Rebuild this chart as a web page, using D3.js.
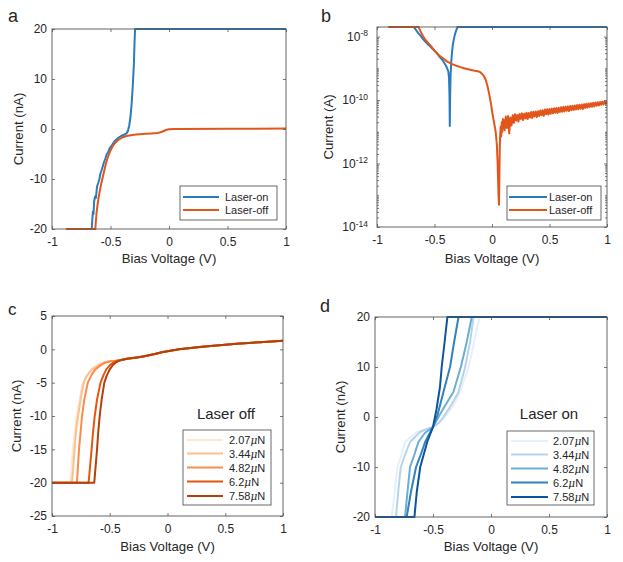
<!DOCTYPE html>
<html><head><meta charset="utf-8">
<script src="https://cdn.jsdelivr.net/npm/d3@7"></script>
<style>
body{margin:0;background:#fff}
svg{display:block}
text{font-family:"Liberation Sans",Arial,Helvetica,sans-serif;fill:#262626}
</style>
</head><body>
<svg id="chart" width="623" height="562"></svg>
<script>
// ---------------- DATA ----------------
const xTicks = [-1, -0.5, 0, 0.5, 1];
const aYTicks = [-20, -10, 0, 10, 20];
const cYTicks = [-25, -20, -15, -10, -5, 0, 5];
const dYTicks = [-20, -10, 0, 10, 20];
const bYTicks = [1e-14, 1e-12, 1e-10, 1e-8];

const legendAB = ["Laser-on", "Laser-off"];
const forces = ["2.07", "3.44", "4.82", "6.2", "7.58"];

// panel a (nA)
const aOnV = [-0.88, -0.66, -0.655, -0.65, -0.645, -0.64, -0.632, -0.625, -0.615, -0.605, -0.595, -0.585, -0.575, -0.565, -0.555, -0.545, -0.535, -0.52, -0.505, -0.49, -0.47, -0.45, -0.43, -0.41, -0.39, -0.37, -0.36, -0.35, -0.34, -0.33, -0.32, -0.31, -0.30, -0.295, -0.29, 1.0];
const aOnI = [-20, -20, -18, -16.5, -17, -14.5, -13.5, -13.8, -11.5, -10.8, -10, -8.8, -8.2, -7.4, -6.6, -6, -5.2, -4.6, -3.8, -3.3, -2.6, -2.1, -1.7, -1.4, -1.2, -1.0, -0.8, -0.3, 0.7, 2.3, 4.8, 8.5, 13, 17, 20, 20];
const aOffV = [-0.88, -0.63, -0.62, -0.61, -0.60, -0.59, -0.58, -0.57, -0.56, -0.55, -0.54, -0.53, -0.52, -0.50, -0.48, -0.46, -0.44, -0.42, -0.40, -0.37, -0.34, -0.30, -0.25, -0.2, -0.15, -0.1, -0.08, -0.06, -0.04, -0.02, 0, 0.05, 0.5, 1.0];
const aOffI = [-20, -20, -17, -15, -13.5, -12.2, -11, -10, -9.0, -8.0, -7.0, -6.2, -5.5, -4.3, -3.4, -2.8, -2.3, -2.0, -1.7, -1.45, -1.3, -1.15, -1.05, -0.95, -0.88, -0.8, -0.72, -0.55, -0.35, -0.15, -0.05, 0, 0.05, 0.1];

// panel b (log10 of |current| in A)
const bOnV = [-0.9, -0.68, -0.66, -0.64, -0.62, -0.60, -0.58, -0.56, -0.54, -0.52, -0.50, -0.48, -0.46, -0.44, -0.42, -0.40, -0.39, -0.38, -0.374, -0.370, -0.367, -0.364, -0.360, -0.355, -0.35, -0.345, -0.34, -0.33, -0.32, -0.31, -0.30, 1.0];
const bOnLog = [-7.7, -7.7, -7.8, -7.9, -7.98, -8.08, -8.16, -8.24, -8.3, -8.38, -8.45, -8.52, -8.62, -8.7, -8.8, -8.92, -9.0, -9.1, -9.3, -9.8, -10.82, -9.9, -9.2, -8.85, -8.6, -8.4, -8.25, -8.05, -7.9, -7.8, -7.7, -7.7];
const bOffV = [-0.9, -0.638, -0.62, -0.60, -0.58, -0.555, -0.53, -0.505, -0.478, -0.45, -0.42, -0.39, -0.35, -0.304, -0.26, -0.217, -0.16, -0.116, -0.10, -0.085, -0.07, -0.055, -0.04, -0.025, -0.01, 0.005, 0.02, 0.032, 0.042, 0.048, 0.052, 0.056, 0.059, 0.061, 0.063, 0.065, 0.067, 0.07, 0.075, 0.08, 0.085, 0.09, 0.095,
  0.10, 0.11, 0.12, 0.13, 0.14, 0.15, 0.16, 0.17, 0.18, 0.19, 0.20, 0.21, 0.22, 0.23, 0.24, 0.25, 0.26, 0.27, 0.28, 0.29, 0.30, 0.31, 0.32, 0.33, 0.34, 0.35, 0.36, 0.37, 0.38, 0.39, 0.40, 0.41, 0.42, 0.43, 0.44, 0.45, 0.46, 0.47, 0.48, 0.49, 0.50, 0.51, 0.52, 0.53, 0.54, 0.55, 0.56, 0.57, 0.58, 0.59, 0.60, 0.61, 0.62, 0.63, 0.64, 0.65, 0.66, 0.67, 0.68, 0.69, 0.70, 0.71, 0.72, 0.73, 0.74, 0.75, 0.76, 0.77, 0.78, 0.79, 0.80, 0.81, 0.82, 0.83, 0.84, 0.85, 0.86, 0.87, 0.88, 0.89, 0.90, 0.91, 0.92, 0.93, 0.94, 0.95, 0.96, 0.97, 0.98, 0.99, 1.00];
const bOffLog = [-7.7, -7.7, -7.85, -7.98, -8.1, -8.2, -8.3, -8.42, -8.53, -8.62, -8.7, -8.79, -8.86, -8.93, -8.98, -9.02, -9.07, -9.1, -9.13, -9.18, -9.25, -9.36, -9.55, -9.8, -10.1, -10.45, -10.75, -11.0, -11.4, -11.9, -12.4, -12.9, -13.2, -13.3, -12.8, -12.2, -11.6, -11.2, -10.85, -11.15, -10.7, -11.0, -10.6,
  -10.62, -10.95, -10.52, -10.88, -10.5, -11.05, -10.55, -10.8, -10.48, -10.72, -10.45, -10.65, -10.47, -10.68, -10.44, -10.6, -10.42, -10.63, -10.43, -10.58, -10.4, -10.6, -10.41, -10.55, -10.38, -10.57, -10.37, -10.52, -10.36, -10.54, -10.35, -10.5, -10.33, -10.48, -10.32, -10.5, -10.3, -10.45, -10.29, -10.46, -10.28, -10.43, -10.27, -10.42, -10.26, -10.4, -10.25, -10.41, -10.24, -10.38, -10.23, -10.37, -10.22, -10.36, -10.21, -10.34, -10.2, -10.35, -10.19, -10.32, -10.18, -10.31, -10.17, -10.3, -10.16, -10.29, -10.15, -10.27, -10.14, -10.28, -10.13, -10.25, -10.12, -10.24, -10.11, -10.22, -10.1, -10.21, -10.09, -10.2, -10.08, -10.18, -10.07, -10.17, -10.06, -10.15, -10.05, -10.14, -10.04, -10.12, -10.05];

// panel c (laser off, nA)
const cTailV = [-0.40, -0.35, -0.30, -0.25, -0.20, -0.15, -0.10, -0.05, 0, 0.1, 0.2, 0.3, 0.4, 0.5, 0.6, 0.7, 0.8, 0.9, 1.0];
const cTailI = [-1.6, -1.4, -1.3, -1.2, -1.05, -0.85, -0.65, -0.45, -0.28, 0.0, 0.2, 0.38, 0.55, 0.7, 0.83, 0.95, 1.07, 1.18, 1.3];
const c207V = [-1, -0.84, -0.83, -0.82, -0.80, -0.78, -0.76, -0.74, -0.71, -0.67, -0.62, -0.57, -0.52, -0.47];
const c207I = [-20, -20, -17.5, -15, -12, -9.5, -7.5, -5.5, -4.3, -3.2, -2.5, -2.0, -1.8, -1.7];
const c344V = [-1, -0.827, -0.815, -0.805, -0.79, -0.77, -0.75, -0.726, -0.70, -0.654, -0.60, -0.553, -0.50, -0.45];
const c344I = [-20, -20, -17.5, -15, -12, -9.5, -7.3, -5, -4.0, -3, -2.4, -2, -1.8, -1.7];
const c482V = [-1, -0.784, -0.775, -0.766, -0.753, -0.74, -0.72, -0.69, -0.66, -0.625, -0.58, -0.54, -0.49, -0.45];
const c482I = [-20, -20, -17.5, -15, -12.5, -10, -7.5, -5, -3.9, -3, -2.4, -2, -1.75, -1.7];
const c620V = [-1, -0.683, -0.67, -0.657, -0.645, -0.63, -0.61, -0.58, -0.555, -0.53, -0.5, -0.47, -0.44];
const c620I = [-20, -20, -17.5, -15, -12.5, -10, -7.5, -5, -3.9, -3, -2.4, -2.0, -1.75];
const c758V = [-1, -0.634, -0.622, -0.61, -0.6, -0.587, -0.57, -0.547, -0.525, -0.5, -0.475, -0.45, -0.43];
const c758I = [-20, -20, -17.5, -15, -12.5, -10, -7.5, -5, -3.9, -3, -2.4, -2.0, -1.8];

// panel d (laser on, nA)
const d207V = [-1, -0.856, -0.83, -0.807, -0.77, -0.741, -0.64, -0.57, -0.5, -0.45, -0.396, -0.32, -0.266, -0.194, -0.145, -0.1, 1];
const d207I = [-20, -20, -15, -10, -7.5, -5, -3, -2.5, -2, -1.2, 0, 2.5, 5, 10, 15, 20, 20];
const d344V = [-1, -0.819, -0.80, -0.778, -0.74, -0.698, -0.612, -0.55, -0.5, -0.45, -0.41, -0.34, -0.28, -0.223, -0.18, -0.151, 1];
const d344I = [-20, -20, -15, -10, -7.5, -5, -3, -2.4, -2, -1.2, 0, 2.5, 5, 10, 15, 20, 20];
const d482V = [-1, -0.741, -0.72, -0.698, -0.66, -0.626, -0.57, -0.5, -0.453, -0.39, -0.324, -0.26, -0.209, -0.166, 1];
const d482I = [-20, -20, -15, -10, -7.5, -5, -3.2, -2, 0, 2.5, 5, 10, 15, 20, 20];
const d620V = [-1, -0.727, -0.69, -0.646, -0.605, -0.568, -0.53, -0.5, -0.46, -0.41, -0.353, -0.318, -0.28, 1];
const d620I = [-20, -20, -15, -10, -7.5, -5, -3.3, -2, 0.5, 5, 10, 15, 20, 20];
const d758V = [-1, -0.66, -0.64, -0.61, -0.58, -0.55, -0.5, -0.47, -0.44, -0.425, -0.40, -0.376, 1];
const d758I = [-20, -20, -15, -10, -7.5, -5, -2, 1.5, 6, 10, 15, 20, 20];

// colours
const cOn = "#2a7bbf", cOff = "#e2561b";
const orangeShades = ["#fde6d2", "#fdc08e", "#fb8c4a", "#e6550d", "#b3400a"];
const blueShades = ["#e6effa", "#b5d3ea", "#6aaed6", "#3182bd", "#0b559f"];

// ---------------- DRAW ----------------
const svg = d3.select("#chart");
const fmt = d => String(d);

function panel(o) {
  const x = d3.scaleLinear().domain([-1, 1]).range([o.x0, o.x1]);
  const y = (o.log ? d3.scaleLog() : d3.scaleLinear()).domain(o.yDom).range([o.y1, o.y0]);
  const id = "clip" + o.name;
  svg.append("clipPath").attr("id", id).append("rect")
    .attr("x", o.x0).attr("y", o.y0 - 1.5).attr("width", o.x1 - o.x0).attr("height", o.y1 - o.y0 + 3);
  const lg = svg.append("g").attr("clip-path", `url(#${id})`);
  const line = d3.line().x(d => x(d[0])).y(d => y(d[1]));
  o.series.forEach(s => {
    lg.append("path").datum(d3.zip(s.v, s.i)).attr("d", line)
      .attr("fill", "none").attr("stroke", s.color).attr("stroke-width", 2)
      .attr("stroke-linejoin", "round");
  });
  const tk = 3;
  const style = g => {
    g.select(".domain").remove();
    g.selectAll(".tick line").attr("stroke", "#555").attr("stroke-width", 0.8);
    g.selectAll("text").attr("font-size", 12).attr("font-family", null).attr("fill", "#262626");
    g.attr("font-family", null);
  };
  svg.append("g").attr("transform", `translate(0,${o.y1})`)
    .call(d3.axisBottom(x).tickValues(xTicks).tickFormat(fmt).tickSizeInner(-tk).tickSizeOuter(0).tickPadding(8)).call(style);
  svg.append("g").attr("transform", `translate(0,${o.y0})`)
    .call(d3.axisTop(x).tickValues(xTicks).tickFormat("").tickSizeInner(-tk).tickSizeOuter(0)).call(style);
  if (o.log) {
    const minor = [];
    for (let e = -14; e <= -8; e++) for (let k = 1; k <= 9; k++) {
      const v = k * Math.pow(10, e);
      if (v <= o.yDom[1] * 1.0001 && !(k === 1 && e % 2 === 0)) minor.push(v);
    }
    [[d3.axisLeft, o.x0], [d3.axisRight, o.x1]].forEach(([ax, px]) => {
      svg.append("g").attr("transform", `translate(${px},0)`)
        .call(ax(y).tickValues(minor).tickFormat("").tickSizeInner(-2).tickSizeOuter(0)).call(style);
    });
    const gl = svg.append("g").attr("transform", `translate(${o.x0},0)`)
      .call(d3.axisLeft(y).tickValues(o.yTicks).tickFormat(() => "").tickSizeInner(-tk).tickSizeOuter(0).tickPadding(9)).call(style);
    gl.selectAll(".tick text").each(function(d) {
      const e = Math.round(Math.log10(d));
      const t = d3.select(this);
      t.text("10");
      t.append("tspan").attr("dy", "-0.55em").attr("font-size", 8.5).text(String(e));
    });
    svg.append("g").attr("transform", `translate(${o.x1},0)`)
      .call(d3.axisRight(y).tickValues(o.yTicks).tickFormat("").tickSizeInner(-tk).tickSizeOuter(0)).call(style);
  } else {
    svg.append("g").attr("transform", `translate(${o.x0},0)`)
      .call(d3.axisLeft(y).tickValues(o.yTicks).tickFormat(fmt).tickSizeInner(-tk).tickSizeOuter(0).tickPadding(5)).call(style);
    svg.append("g").attr("transform", `translate(${o.x1},0)`)
      .call(d3.axisRight(y).tickValues(o.yTicks).tickFormat("").tickSizeInner(-tk).tickSizeOuter(0)).call(style);
  }
  svg.append("rect").attr("x", o.x0).attr("y", o.y0).attr("width", o.x1 - o.x0).attr("height", o.y1 - o.y0)
    .attr("fill", "none").attr("stroke", "#555").attr("stroke-width", 0.9);
  svg.append("text").attr("x", (o.x0 + o.x1) / 2).attr("y", o.xlabY).attr("text-anchor", "middle")
    .attr("font-size", 13.2).text("Bias Voltage (V)");
  svg.append("text").attr("transform", `translate(${o.ylabX},${(o.y0 + o.y1) / 2}) rotate(-90)`)
    .attr("text-anchor", "middle").attr("font-size", 13.2).text(o.ylab);
  svg.append("text").attr("x", o.tagX).attr("y", o.tagY).attr("font-size", o.tagSize || 18).text(o.name);

  // legend
  const L = o.legend;
  svg.append("rect").attr("x", L.x0).attr("y", L.y0).attr("width", L.x1 - L.x0).attr("height", L.y1 - L.y0)
    .attr("fill", "#fff").attr("stroke", "#444").attr("stroke-width", 0.8);
  L.items.forEach((it, k) => {
    const yy = L.rows[k];
    svg.append("line").attr("x1", L.lx0).attr("x2", L.lx1).attr("y1", yy).attr("y2", yy)
      .attr("stroke", it.color).attr("stroke-width", 2);
    const t = svg.append("text").attr("x", L.tx).attr("y", yy + 4).attr("font-size", 11);
    if (it.force) {
      t.append("tspan").text(it.force);
      t.append("tspan").attr("font-style", "italic").attr("font-family", "'DejaVu Serif',serif").attr("font-size", 10.5).text("\u03BC");
      t.append("tspan").text("N");
    } else t.text(it.label);
  });
  if (L.title) {
    svg.append("text").attr("x", L.titleX).attr("y", L.titleY).attr("text-anchor", "middle")
      .attr("font-size", 15).attr("font-family", "'DejaVu Sans',sans-serif").text(L.title);
  }
}

panel({
  name: "a", x0: 52, x1: 286, y0: 29, y1: 229, yDom: [-20, 20], yTicks: aYTicks,
  ylab: "Current (nA)", ylabX: 23, xlabY: 263, tagX: 8, tagY: 22,
  series: [{ v: aOnV, i: aOnI, color: cOn }, { v: aOffV, i: aOffI, color: cOff }],
  legend: { x0: 180, x1: 277, y0: 186, y1: 220, lx0: 183, lx1: 219, tx: 225, rows: [197, 210],
    items: [{ label: legendAB[0], color: cOn }, { label: legendAB[1], color: cOff }] }
});

panel({
  name: "b", log: true, x0: 377, x1: 607, y0: 27, y1: 227, yDom: [1e-14, 2e-8], yTicks: bYTicks,
  ylab: "Current (A)", ylabX: 333, xlabY: 263, tagX: 321, tagY: 22,
  series: [{ v: bOnV, i: bOnLog.map(l => Math.pow(10, l)), color: cOn }, { v: bOffV, i: bOffLog.map(l => Math.pow(10, l)), color: cOff }],
  legend: { x0: 507, x1: 601, y0: 186, y1: 220, lx0: 509, lx1: 547, tx: 549, rows: [197, 210],
    items: [{ label: legendAB[0], color: cOn }, { label: legendAB[1], color: cOff }] }
});

const cV = [c207V, c344V, c482V, c620V, c758V], cI = [c207I, c344I, c482I, c620I, c758I];
panel({
  name: "c", x0: 52, x1: 283, y0: 316, y1: 516, yDom: [-25, 5], yTicks: cYTicks,
  ylab: "Current (nA)", ylabX: 21, xlabY: 551, tagX: 8, tagY: 315, tagSize: 17,
  series: cV.map((v, k) => ({ v: v.concat(cTailV), i: cI[k].concat(cTailI), color: orangeShades[k] })),
  legend: { x0: 183, x1: 271, y0: 430, y1: 505, lx0: 187, lx1: 223, tx: 229, rows: [440, 453.5, 467.5, 481.5, 496],
    title: "Laser off", titleX: 226, titleY: 419,
    items: forces.map((f, k) => ({ force: f, color: orangeShades[k] })) }
});

const dV = [d207V, d344V, d482V, d620V, d758V], dI = [d207I, d344I, d482I, d620I, d758I];
panel({
  name: "d", x0: 375, x1: 607, y0: 317, y1: 517, yDom: [-20, 20], yTicks: dYTicks,
  ylab: "Current (nA)", ylabX: 345, xlabY: 551, tagX: 320, tagY: 312,
  series: dV.map((v, k) => ({ v: v, i: dI[k], color: blueShades[k] })),
  legend: { x0: 507, x1: 594, y0: 431, y1: 505, lx0: 511, lx1: 548, tx: 553, rows: [441, 454.5, 468.5, 482.5, 497],
    title: "Laser on", titleX: 549, titleY: 419,
    items: forces.map((f, k) => ({ force: f, color: blueShades[k] })) }
});
</script>
</body></html>
